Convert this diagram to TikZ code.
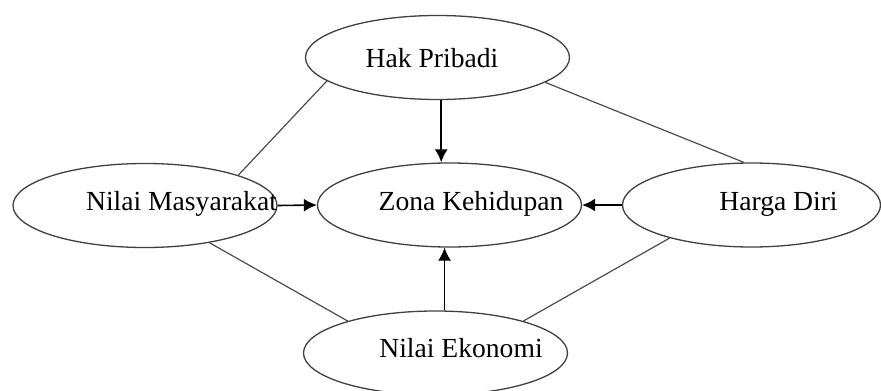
\documentclass[tikz,border=0pt]{standalone}
\usepackage{fontspec}
\setmainfont{Liberation Serif}
\usepackage{tikz}
\usetikzlibrary{shapes,arrows.meta}

\begin{document}
\begin{tikzpicture}[x=0.5pt,y=-0.5pt,>={Latex[length=6.5pt,width=6.5pt]},
  oval/.style={ellipse,draw=black!75,line width=0.65pt,inner sep=0pt,minimum width=132pt,minimum height=42pt},
  txt/.style={inner sep=0pt,font=\fontsize{13.8pt}{16pt}\selectfont},
  link/.style={draw=black!70,line width=0.6pt},
  arr/.style={->,line width=0.8pt}]
\useasboundingbox (0,0) rectangle (881,390);
\node[oval] (HAK) at (437.5,57.5) {};
\node[oval] (ZONA) at (449.5,205) {};
\node[oval] (MASY) at (145,205.5) {};
\node[oval,minimum width=129pt] (HARGA) at (751.5,205) {};
\node[oval] (EKO) at (435.5,353) {};
\node[txt] (HAKT) at (432,58) {Hak Pribadi};
\node[txt] (ZONAT) at (471,204) {Zona Kehidupan};
\node[txt] (MASYT) at (181.5,204) {Nilai Masyarakat};
\node[txt] (HARGAT) at (778.5,204) {Harga Diri};
\node[txt] (EKOT) at (461,348) {Nilai Ekonomi};
\draw [link] (HAK.192) to (MASY.18);
\draw [link] (HAK.347) to (HARGA.100);
\draw [link] (MASY.330) to (EKO.160);
\draw [link] (HARGA.202) to (EKO.20);
\draw [arr] (HAK.275) to (HAK.275 |- ZONA.north);
\draw [arr] (EKO.78) to (EKO.78 |- ZONA.south);
\draw [arr] (MASY.east) to (ZONA.west);
\draw [arr] (HARGA.west) to (ZONA.east);
\end{tikzpicture}
\end{document}
